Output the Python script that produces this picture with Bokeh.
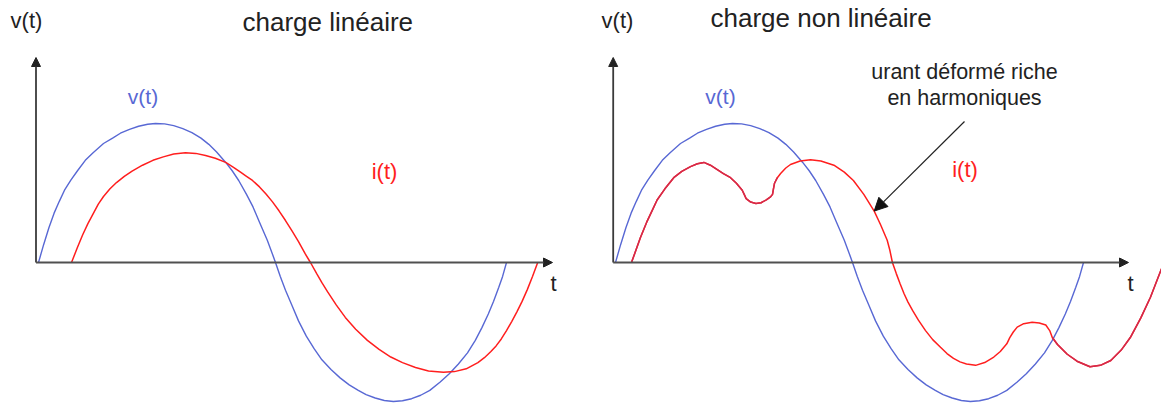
from bokeh.plotting import figure
from bokeh.layouts import row
from bokeh.models import Range1d, Arrow, NormalHead, Label
from bokeh.embed import file_html
from bokeh.resources import INLINE

# ---------------- data (angle in degrees, amplitude normalised to v peak) ----------------
v_deg = [0, 4, 8, 12, 16, 20, 25, 30, 36, 42, 50, 57, 63, 70, 77, 84, 90, 97, 104, 111, 118, 125,
         131, 137, 144, 149, 154, 160, 165, 170, 176, 180, 182.3,
         186, 190, 195, 200, 206, 212, 218, 225, 232, 239, 246, 252, 259, 266, 273, 280, 287, 294,
         301, 309, 316, 323, 330, 336, 341, 346, 350, 354, 357, 360]
v_amp = [0.0, 0.13, 0.25, 0.355, 0.44, 0.52, 0.595, 0.66, 0.735, 0.79, 0.856, 0.895, 0.93, 0.958,
         0.98, 0.995, 1.0, 0.997, 0.985, 0.963, 0.935, 0.895, 0.85, 0.795, 0.72, 0.66, 0.59, 0.49,
         0.40, 0.29, 0.16, 0.06, 0.0,
         -0.10, -0.20, -0.31, -0.42, -0.53, -0.62, -0.70, -0.77, -0.83, -0.88, -0.92, -0.95, -0.975,
         -0.993, -1.0, -0.995, -0.98, -0.955, -0.92, -0.86, -0.80, -0.73, -0.65, -0.56, -0.47, -0.37,
         -0.28, -0.18, -0.10, 0.0]

# linear load current
i_lin_deg = [25.4, 30, 34, 38, 42, 46, 50, 55, 60, 66, 72, 80, 88, 96, 104, 113, 121, 128.5, 136,
             144, 150, 155.4, 160, 164.6, 170, 175, 180, 185, 190, 195, 200, 205, 209.2,
             214, 218, 222.3, 229, 236, 244, 253, 262, 271, 280, 290, 300, 311.5, 320, 329, 338,
             343, 348, 352, 356, 360, 364, 368, 372, 376, 380, 384]
i_lin_amp = [0.0, 0.11, 0.20, 0.28, 0.35, 0.42, 0.475, 0.53, 0.575, 0.62, 0.658, 0.70, 0.735, 0.76,
             0.78, 0.79, 0.785, 0.77, 0.75, 0.72, 0.685, 0.65, 0.62, 0.59, 0.544, 0.493, 0.436,
             0.372, 0.302, 0.227, 0.15, 0.065, 0.0,
             -0.08, -0.145, -0.21, -0.305, -0.395, -0.48, -0.56, -0.625, -0.68, -0.72, -0.755,
             -0.78, -0.79, -0.785, -0.765, -0.72, -0.685, -0.64, -0.60, -0.55, -0.49, -0.425,
             -0.355, -0.28, -0.195, -0.10, 0.0]

# non linear load current (rich in harmonics)
i_nl_deg = [12.3, 15, 19.2, 24, 28, 32, 38, 44.8, 51, 57.7, 63, 68, 73, 78, 83, 88.5, 93, 97.5,
            99, 100.5, 104, 108, 112, 116, 119, 120.8, 121.5, 122.3, 124.5, 127, 131, 134.6, 142,
            150, 158, 168, 176, 183, 191, 199, 204, 209, 211, 213,
            216, 219, 222, 225, 228.5, 233, 238.5, 244, 250, 255, 260, 265, 270, 277, 284, 291,
            296, 301, 303.3, 306, 309, 314, 320.5, 326, 331, 334, 336, 340, 347.5, 355, 365, 373,
            381, 389, 396, 404, 411.5, 420]
i_nl_amp = [0.0, 0.07, 0.18, 0.29, 0.37, 0.45, 0.53, 0.61, 0.655, 0.69, 0.71, 0.72, 0.70, 0.67,
            0.64, 0.61, 0.57, 0.52, 0.49, 0.46, 0.435, 0.425, 0.43, 0.45, 0.47, 0.49, 0.53, 0.57,
            0.61, 0.64, 0.68, 0.705, 0.73, 0.74, 0.73, 0.70, 0.65, 0.59, 0.49, 0.37, 0.27, 0.16,
            0.09, 0.0,
            -0.08, -0.155, -0.225, -0.285, -0.345, -0.415, -0.49, -0.555, -0.61, -0.655, -0.69,
            -0.715, -0.73, -0.74, -0.72, -0.68, -0.64, -0.585, -0.54, -0.50, -0.465, -0.44, -0.43,
            -0.435, -0.45, -0.49, -0.54, -0.59, -0.66, -0.71, -0.75, -0.74, -0.705, -0.63, -0.54,
            -0.40, -0.25, -0.045]

titles = ["charge linéaire", "charge non  linéaire"]
note_lines = ["urant déformé riche", "en harmoniques"]

BLUE = "#5868d4"
RED = "#ff1e1e"
CRIMSON = "#d42a4a"
INK = "#222222"
AXIS = "#3a3a3a"
FONT = "Liberation Sans"

PX_PER_DEG = 1.3
PX_PER_AMP = 139.0
Y0 = 262.0   # pixel row of the zero line
H = 403


def make_fig(width, x0, left):
    xs = (left - x0) / PX_PER_DEG
    xe = (left + width - x0) / PX_PER_DEG
    ys = (Y0 - H) / PX_PER_AMP
    ye = Y0 / PX_PER_AMP
    p = figure(width=width, height=H, x_range=Range1d(xs, xe), y_range=Range1d(ys, ye),
               output_backend="svg", toolbar_location=None, min_border=0,
               x_axis_type=None, y_axis_type=None)
    p.grid.visible = False
    p.outline_line_color = None
    p.background_fill_color = "white"
    p.border_fill_color = "white"
    return p


def X(px, x0):
    return (px - x0) / PX_PER_DEG


def Y(py):
    return (Y0 - py) / PX_PER_AMP


def label(p, x, y, text, size, color, align="left", baseline="alphabetic"):
    p.add_layout(Label(x=x, y=y, text=text, text_font=FONT, text_font_size=size,
                       text_color=color, text_align=align, text_baseline=baseline))


def axes(p, x0, ax_px, tip_px):
    p.add_layout(Arrow(end=NormalHead(size=9, fill_color=INK, line_color=INK, line_width=1),
                       x_start=X(ax_px, x0), y_start=0, x_end=X(ax_px, x0), y_end=Y(57),
                       line_color=AXIS, line_width=1.8))
    p.add_layout(Arrow(end=NormalHead(size=9, fill_color=INK, line_color=INK, line_width=1),
                       x_start=X(ax_px, x0), y_start=0, x_end=X(tip_px, x0), y_end=0,
                       line_color="#505050", line_width=2))


# ---------------- left panel ----------------
L0 = 38.0
p1 = make_fig(580, L0, 0)
axes(p1, L0, 35.5, 552)
p1.line(v_deg, v_amp, line_color=BLUE, line_width=1.4)
p1.line(i_lin_deg, i_lin_amp, line_color=RED, line_width=1.5)
label(p1, X(26, L0), Y(19.5), "v(t)", "22px", INK, "center")
label(p1, X(242, L0), Y(21), titles[0], "26px", INK, "left")
label(p1, X(142.5, L0), Y(96), "v(t)", "21px", BLUE, "center")
label(p1, X(384, L0), Y(171), "i(t)", "22px", RED, "center")
label(p1, X(553, L0), Y(283), "t", "22px", INK, "center")

# ---------------- right panel ----------------
R0 = 615.0
p2 = make_fig(581, R0, 580)
axes(p2, R0, 612.7, 1128)
p2.line(v_deg, v_amp, line_color=BLUE, line_width=1.4)
p2.line(i_nl_deg, i_nl_amp, line_color=RED, line_width=1.5)
k1 = 29
k2 = 70
p2.line(i_nl_deg[:k1], i_nl_amp[:k1], line_color=CRIMSON, line_width=1.5)
p2.line(i_nl_deg[k2:], i_nl_amp[k2:], line_color=CRIMSON, line_width=1.5)
label(p2, X(617, R0), Y(19.5), "v(t)", "22px", INK, "center")
label(p2, X(710, R0), Y(17.5), titles[1], "26px", INK, "left")
label(p2, X(720, R0), Y(96), "v(t)", "21px", BLUE, "center")
label(p2, X(964.5, R0), Y(169), "i(t)", "22px", RED, "center")
label(p2, X(1130, R0), Y(283), "t", "22px", INK, "center")
label(p2, X(964, R0), Y(71), note_lines[0], "21.5px", INK, "center")
label(p2, X(964, R0), Y(97.5), note_lines[1], "21.5px", INK, "center")
p2.add_layout(Arrow(end=NormalHead(size=13, fill_color="#111111", line_color="#111111", line_width=1),
                    x_start=X(964, R0), y_start=Y(121), x_end=i_nl_deg[39], y_end=i_nl_amp[39],
                    line_color="#222222", line_width=1.2))

layout = row(p1, p2)
open("out.html", "w").write(file_html(layout, INLINE))
